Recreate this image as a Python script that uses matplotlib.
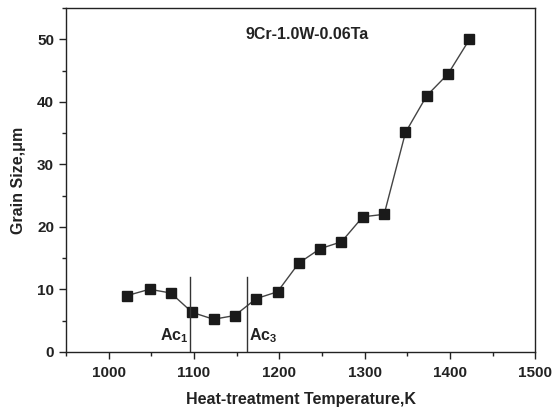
import matplotlib
matplotlib.use('Agg')
import matplotlib.pyplot as plt
from matplotlib.ticker import MultipleLocator

plt.rcParams['font.family'] = ['Liberation Sans', 'DejaVu Sans']
plt.rcParams['font.weight'] = 'bold'
plt.rcParams['axes.labelweight'] = 'bold'
plt.rcParams['mathtext.fontset'] = 'custom'
plt.rcParams['mathtext.rm'] = 'Liberation Sans:bold'
plt.rcParams['mathtext.bf'] = 'Liberation Sans:bold'

temperature = [1022, 1048, 1073, 1098, 1123, 1148, 1173, 1198, 1223,
               1248, 1273, 1298, 1323, 1348, 1373, 1398, 1423]
grain_size = [9.0, 10.0, 9.4, 6.3, 5.2, 5.8, 8.5, 9.6, 14.2,
              16.5, 17.6, 21.6, 22.0, 35.1, 41.0, 44.5, 50.0]
ac1 = 1096
ac3 = 1162

fig = plt.figure(figsize=(5.54, 4.09), dpi=100)
ax = fig.add_axes([0.119, 0.140, 0.847, 0.840])

ax.plot(temperature, grain_size, color='#444444', lw=1.0,
        marker='s', ms=6.5, mfc='#1a1a1a', mec='#1a1a1a')

ax.plot([ac1, ac1], [0, 12], color='#333333', lw=1.0)
ax.plot([ac3, ac3], [0, 12], color='#333333', lw=1.0)
ax.text(ac1 - 2, 1.0, 'Ac$_\\mathbf{1}$', ha='right', va='bottom', fontsize=11.5, color='#222222')
ax.text(ac3 + 2, 1.0, 'Ac$_\\mathbf{3}$', ha='left', va='bottom', fontsize=11.5, color='#222222')

ax.text(1160, 50.8, '9Cr-1.0W-0.06Ta', ha='left', va='center', fontsize=11.5, color='#222222')

ax.set_xlim(950, 1500)
ax.set_ylim(0, 55)
ax.xaxis.set_major_locator(MultipleLocator(100))
ax.xaxis.set_minor_locator(MultipleLocator(50))
ax.yaxis.set_major_locator(MultipleLocator(10))
ax.yaxis.set_minor_locator(MultipleLocator(5))
ax.tick_params(which='major', direction='out', length=5, width=1, labelsize=11, colors='#222222')
ax.tick_params(axis='x', which='major', pad=5)
ax.tick_params(which='minor', direction='out', length=3, width=1, colors='#222222')
for s in ax.spines.values():
    s.set_color('#222222')
    s.set_linewidth(1.0)

ax.set_xlabel('Heat-treatment Temperature,K', fontsize=11.5, color='#222222', labelpad=9)
ax.set_ylabel('Grain Size,\u03bcm', fontsize=11.5, color='#222222', labelpad=8)

fig.savefig('out.png', dpi=100)
